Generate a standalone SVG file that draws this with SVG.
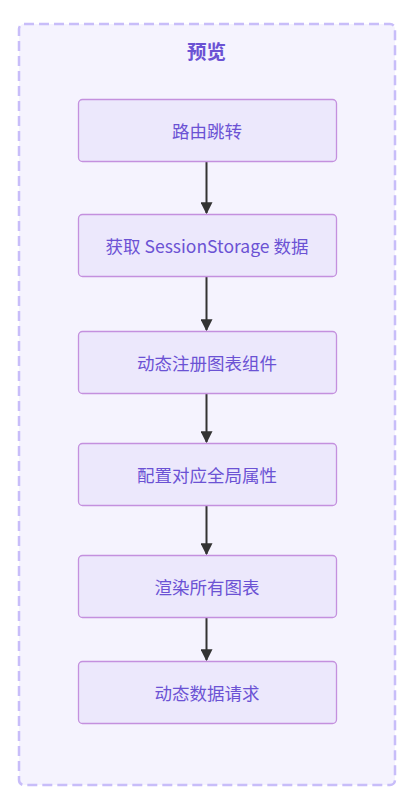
<svg xmlns="http://www.w3.org/2000/svg" width="408" height="805" viewBox="0 0 408 805">
<style>
.node rect{fill:#ece8fc;stroke:#c490de;stroke-width:1.3}
.node text{font-family:"Noto Sans CJK SC","Noto Sans",sans-serif;font-size:17.5px;fill:#6b52d4;text-anchor:middle;dominant-baseline:central}
.edge{stroke:#333;stroke-width:2;fill:none;marker-end:url(#arr)}
</style>
<defs>
<marker id="arr" viewBox="0 0 10 10" refX="9" refY="5" markerWidth="6" markerHeight="6" markerUnits="strokeWidth" orient="auto">
<path d="M0,0 L10,5 L0,10 z" fill="#333"/>
</marker>
</defs>
<rect width="408" height="805" fill="#ffffff"/>
<g id="cluster">
<rect x="19" y="24" width="376" height="761" rx="5" fill="#f5f3fe" stroke="#c8bdf9" stroke-width="2.5" stroke-dasharray="10 5"/>
<text x="206.5" y="50" font-family="'Noto Sans CJK SC',sans-serif" font-size="19.5" font-weight="bold" fill="#6b52d4" text-anchor="middle" dominant-baseline="central">预览</text>
</g>
<g id="edges">
<line class="edge" x1="206.5" y1="162" x2="206.5" y2="213"/>
<line class="edge" x1="206.5" y1="277" x2="206.5" y2="330"/>
<line class="edge" x1="206.5" y1="394" x2="206.5" y2="442"/>
<line class="edge" x1="206.5" y1="506" x2="206.5" y2="554"/>
<line class="edge" x1="206.5" y1="618" x2="206.5" y2="660"/>
</g>
<g id="n1" class="node"><rect x="78.5" y="99.5" width="258" height="62" rx="4"/><text x="207" y="130.5">路由跳转</text></g>
<g id="n2" class="node"><rect x="78.5" y="214.5" width="258" height="62" rx="4"/><text x="207" y="245.5">获取 SessionStorage 数据</text></g>
<g id="n3" class="node"><rect x="78.5" y="331.5" width="258" height="62" rx="4"/><text x="207" y="362.5">动态注册图表组件</text></g>
<g id="n4" class="node"><rect x="78.5" y="443.5" width="258" height="62" rx="4"/><text x="207" y="474.5">配置对应全局属性</text></g>
<g id="n5" class="node"><rect x="78.5" y="555.5" width="258" height="62" rx="4"/><text x="207" y="586.5">渲染所有图表</text></g>
<g id="n6" class="node"><rect x="78.5" y="661.5" width="258" height="62" rx="4"/><text x="207" y="692.5">动态数据请求</text></g>
</svg>
